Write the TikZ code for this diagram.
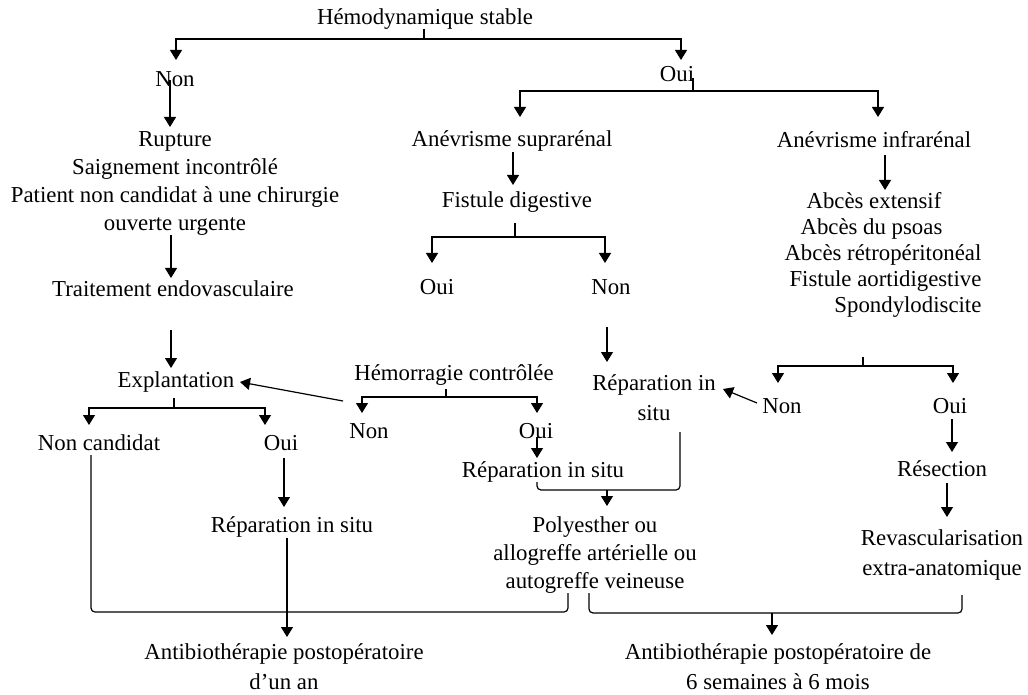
\documentclass[tikz,border=0pt]{standalone}
\usepackage{fontspec}
\setmainfont{Liberation Serif}
\usetikzlibrary{arrows.meta,calc}
\begin{document}
\begin{tikzpicture}[x=0.5pt,y=-0.5pt,line width=0.6pt,
  lbl/.style={font=\fontsize{11.4}{14}\selectfont, inner sep=0pt, align=center},
  wide/.style={font=\fontsize{11.4}{15}\selectfont},
  arr/.style={-{Triangle[width=6pt,length=5pt]}}]
\fill[white] (0,0) rectangle (1028,695);
\useasboundingbox (0,0) rectangle (1028,695);
% nodes
\node[lbl] (hemo)  at (425,19)  {Hémodynamique stable};
\node[lbl] (non1)  at (175,79)  {Non};
\node[lbl] (oui1)  at (677,74)  {Oui};
\node[lbl] (rupt)  at (175,183.5) {Rupture\\Saignement incontrôlé\\Patient non candidat à une chirurgie\\ouverte urgente};
\node[lbl] (trait) at (173,289) {Traitement endovasculaire};
\node[lbl] (expl)  at (176,382) {Explantation};
\node[lbl] (nonc)  at (99,443)  {Non candidat};
\node[lbl] (oui2)  at (281,443) {Oui};
\node[lbl] (rep1)  at (292,527) {Réparation in situ};
\node[lbl,wide] (anti1) at (284,667) {Antibiothérapie postopératoire\\d’un an};
\node[lbl] (supra) at (512,141) {Anévrisme suprarénal};
\node[lbl] (infra) at (874,140) {Anévrisme infrarénal};
\node[lbl] (fist)  at (517,202) {Fistule digestive};
\node[lbl] (oui3)  at (437,287) {Oui};
\node[lbl] (non3)  at (611,287) {Non};
\node[lbl,wide] (rep2) at (654,398) {Réparation in\\situ};
\node[lbl,align=right,font=\fontsize{11.4}{12.9}\selectfont,anchor=east] (abces) at (982,255)
  {Abcès extensif\hspace*{20pt}\mbox{}\\Abcès du psoas\hspace*{19.5pt}\mbox{}\\Abcès rétropéritonéal\\Fistule aortidigestive\\Spondylodiscite};
\node[lbl] (non4)  at (782,406) {Non};
\node[lbl] (oui4)  at (950,406) {Oui};
\node[lbl] (resec) at (942,469) {Résection};
\node[lbl,wide] (revasc) at (942,555.5) {Revascularisation\\extra-anatomique};
\node[lbl] (hemor) at (454,375) {Hémorragie contrôlée};
\node[lbl] (non5)  at (369,431) {Non};
\node[lbl] (oui5)  at (536,431) {Oui};
\node[lbl] (rep3)  at (543,472) {Réparation in situ};
\node[lbl] (poly)  at (595,555.5) {Polyesther ou\\allogreffe artérielle ou\\autogreffe veineuse};
\node[lbl,wide] (anti2) at (778,667) {Antibiothérapie postopératoire de\\6 semaines à 6 mois};
% connectors
\draw ($(hemo)+(-1,10)$) -- ($(hemo)+(-1,20)$) coordinate (j1);
\draw[arr] (j1) -| ($(non1)+(1,-19)$);
\draw[arr] (j1) -| ($(oui1)+(4,-14)$);
\draw[arr] ($(non1)+(-5,1)$) -- ($(rupt)+(-5,-56.5)$);
\draw[arr] ($(rupt)+(-4,51.5)$) -- ($(trait)+(-2,-11)$);
\draw[arr] ($(trait)+(-2,41)$) -- ($(expl)+(-5,-14)$);
\draw ($(expl)+(-2,16)$) -- ($(expl)+(-2,26)$) coordinate (j2);
\draw[arr] (j2) -| ($(nonc)+(-10,-18)$);
\draw[arr] (j2) -| ($(oui2)+(-16,-18)$);
\draw[rounded corners=2pt] ($(nonc)+(-8,12)$) |- ($(poly)+(-27,56.5)$) -- ($(poly)+(-27,37.5)$);
\draw[arr] ($(oui2)+(3,15)$) -- ($(rep1)+(-8,-20)$);
\draw[arr] ($(rep1)+(-5,11)$) -- ($(anti1)+(3,-30)$);
\draw ($(oui1)+(16,4)$) -- ($(oui1)+(16,17)$) coordinate (j3);
\draw[arr] (j3) -| ($(supra)+(8,-24)$);
\draw[arr] (j3) -| ($(infra)+(4,-23)$);
\draw[arr] ($(supra)+(1,11)$) -- ($(fist)+(-4,-17)$);
\draw ($(fist)+(-2,21)$) -- ($(fist)+(-2,35)$) coordinate (j4);
\draw[arr] (j4) -| ($(oui3)+(-5,-24)$);
\draw[arr] (j4) -| ($(non3)+(-6,-24)$);
\draw[arr] ($(non3)+(-4,40)$) -- ($(rep2)+(-47,-36)$);
\draw[arr] ($(infra)+(11,15)$) -- ($(abces.east)+(-97,-65)$);
\draw ($(abces.east)+(-119,102)$) -- ($(abces.east)+(-119,111)$) coordinate (j5);
\draw[arr] (j5) -| ($(non4)+(-4,-23)$);
\draw[arr] (j5) -| ($(oui4)+(3,-23)$);
\draw[arr] ($(non4)+(-25,-3)$) -- ($(rep2)+(69,-9)$);
\draw[arr] ($(oui4)+(2,13)$) -- ($(resec)+(10,-17)$);
\draw[arr] ($(resec)+(5,14)$) -- ($(revasc)+(5,-38.5)$);
\draw[rounded corners=2pt] ($(revasc)+(20,39.5)$) |- ($(poly)+(-6,57.5)$) -- ($(poly)+(-6,37.5)$);
\draw[arr] ($(anti2)+(-6,-54)$) -- ($(anti2)+(-6,-32)$);
\draw ($(hemor)+(-8,14)$) -- ($(hemor)+(-8,22)$) coordinate (j6);
\draw[arr] (j6) -| ($(non5)+(-7,-18)$);
\draw[arr] (j6) -| ($(oui5)+(1,-18)$);
\draw[arr] ($(non5)+(-26,-30)$) -- ($(expl)+(64,0)$);
\draw[arr] ($(oui5)+(1,6)$) -- ($(rep3)+(-6,-14)$);
\draw[rounded corners=2pt] ($(rep3)+(-6,10)$) |- ($(rep2)+(26,92)$) -- ($(rep2)+(26,34)$);
\draw[arr] ($(poly)+(12,-65.5)$) -- ($(poly)+(12,-49.5)$);
\end{tikzpicture}
\end{document}
